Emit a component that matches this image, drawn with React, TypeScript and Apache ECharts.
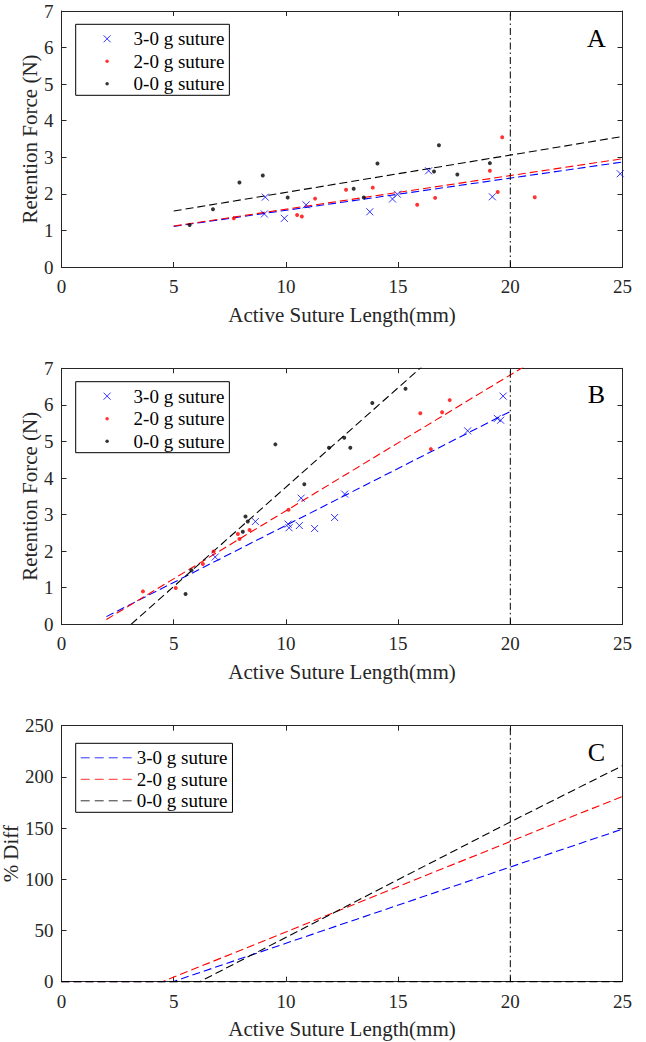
import React, { useEffect, useRef } from 'react';
import * as echarts from 'echarts';

// ---------- data ----------
const seriesNames = ['3-0 g suture', '2-0 g suture', '0-0 g suture'];
const seriesColors = ['#0000ff', '#ff0000', '#000000'];
const xMin = 0;
const xMax = 25;
const xInterval = 5;
const forceMax = 7;
const forceInterval = 1;
const diffMax = 250;
const diffInterval = 50;
const cutoffLength = 20;
const panelLetters = ['A', 'B', 'C'];

// Panel A – measured retention force (N) vs active suture length (mm)
const blueA = [[9.08, 1.91], [9.04, 1.45], [9.93, 1.33], [10.9, 1.7], [13.74, 1.51], [14.75, 1.86], [14.97, 1.99], [16.36, 2.63], [19.2, 1.92], [24.9, 2.55]];
const redA = [[7.68, 1.33], [10.5, 1.42], [10.71, 1.38], [11.3, 1.87], [12.68, 2.11], [13.87, 2.17], [15.85, 1.7], [16.65, 1.89], [19.09, 2.63], [19.44, 2.05], [19.64, 3.55], [21.09, 1.91]];
const blackA = [[5.71, 1.15], [6.75, 1.58], [7.93, 2.31], [8.97, 2.5], [10.08, 1.9], [13.02, 2.14], [13.47, 1.9], [14.08, 2.83], [16.6, 2.61], [16.82, 3.33], [17.64, 2.53], [19.09, 2.84]];
const fitBlueA = [[5, 1.11], [25, 2.87]];
const fitRedA = [[5, 1.12], [25, 2.96]];
const fitBlackA = [[5, 1.53], [25, 3.57]];

// Panel B
const blueB = [[6.85, 1.84], [8.64, 2.81], [10.1, 2.74], [10.14, 2.64], [10.6, 2.7], [10.68, 3.45], [11.28, 2.62], [12.17, 2.92], [12.62, 3.56], [18.1, 5.29], [19.42, 5.63], [19.57, 5.58], [19.68, 6.24]];
const redB = [[3.63, 0.9], [5.09, 0.99], [6.3, 1.65], [6.78, 1.99], [7.86, 2.47], [7.93, 2.33], [8.38, 2.58], [10.12, 3.13], [15.99, 5.77], [16.46, 4.79], [16.96, 5.8], [17.3, 6.13]];
const blackB = [[5.53, 0.83], [5.79, 1.48], [8.08, 2.53], [8.2, 2.95], [8.3, 2.81], [9.53, 4.92], [10.82, 3.83], [11.92, 4.83], [12.6, 5.1], [12.87, 4.83], [13.85, 6.05], [15.33, 6.44]];
const fitBlueB = [[2, 0.21], [20, 5.82]];
const fitRedB = [[2, 0.13], [21, 7.19]];
const fitBlackB = [[3.1, 0], [16.9, 7.5]];

// Panel C – % difference
const diffBlueC = [[0, 0], [4.96, 0], [20, 112], [25, 149]];
const diffRedC = [[0, 0], [4.5, 0], [20, 137], [25, 181]];
const diffBlackC = [[0, 0], [6.16, 0], [20, 156], [25, 211]];
const zeroC = [[0, 0], [25, 0]];

// ---------- styling ----------
const FONT = "'Liberation Serif', 'Times New Roman', serif";
const AX = '#262626';
const GRID_LEFT = 61.5;
const GRID_RIGHT = 23.5;
const GRID_H = 256;
const gridTops = [11, 368.3, 725.7];
const DASH = [8, 4];
const DASHDOT = [7, 3, 1.5, 3];
const X_SYMBOL = 'path://M0,0L10,10M10,0L0,10';
const X_ICON = 'path://M0,0M43,7M18,0L25,7M25,0L18,7';
const DOT_ICON = 'path://M0,0M43,7M21.5,1.75A1.75,1.75,0,1,1,21.5,5.25A1.75,1.75,0,1,1,21.5,1.75Z';
const DASH_ICON = 'path://M0,0M51,2M0,1L9,1M14,1L23,1M28,1L37,1M42,1L51,1';

function buildXAxes(g: number) {
  const common = {
    type: 'value', gridIndex: g, min: xMin, max: xMax, interval: xInterval,
    splitLine: { show: false },
    axisLine: { show: true, onZero: false, lineStyle: { color: AX, width: 1 } },
    axisTick: { show: true, inside: true, length: 5, lineStyle: { color: AX, width: 1 } },
  };
  return [
    {
      ...common, position: 'bottom',
      axisLabel: { show: true, margin: 10, color: AX, fontSize: 19, fontFamily: FONT },
      name: 'Active Suture Length(mm)', nameLocation: 'middle', nameGap: 37, nameMoveOverlap: false,
      nameTextStyle: { color: AX, fontSize: 21, fontFamily: FONT },
    },
    { ...common, position: 'top', axisLabel: { show: false } },
  ];
}

function buildYAxes(g: number, max: number, interval: number, name: string, nameGap: number) {
  const common = {
    type: 'value', gridIndex: g, min: 0, max, interval,
    splitLine: { show: false },
    axisLine: { show: true, onZero: false, lineStyle: { color: AX, width: 1 } },
    axisTick: { show: true, inside: true, length: 5, lineStyle: { color: AX, width: 1 } },
  };
  return [
    {
      ...common, position: 'left',
      axisLabel: { show: true, margin: 8, color: AX, fontSize: 19, fontFamily: FONT },
      name, nameLocation: 'middle', nameGap, nameMoveOverlap: false,
      nameTextStyle: { color: AX, fontSize: 21, fontFamily: FONT },
    },
    { ...common, position: 'right', axisLabel: { show: false } },
  ];
}

function scatterSeries(g: number, idx: number, data: number[][]) {
  const isX = idx === 0;
  return {
    type: 'scatter', name: seriesNames[idx], xAxisIndex: g * 2, yAxisIndex: g * 2, z: 4,
    data,
    symbol: isX ? X_SYMBOL : 'circle',
    symbolSize: isX ? 7 : 4,
    itemStyle: isX
      ? { color: 'transparent', borderColor: seriesColors[idx], borderWidth: 1 }
      : { color: seriesColors[idx], borderWidth: 0 },
    emphasis: { disabled: true },
  };
}

function lineSeries(g: number, color: string, data: number[][], type: any, name?: string, width = 1.1) {
  const s: any = {
    type: 'line', xAxisIndex: g * 2, yAxisIndex: g * 2, z: 3,
    data, symbol: 'none', showSymbol: false, clip: true,
    lineStyle: { color, width, type },
    itemStyle: { color },
    emphasis: { disabled: true },
  };
  if (name) s.name = name;
  return s;
}

function buildLegend(top: number, dashed: boolean, gap: number) {
  return {
    orient: 'vertical', left: 75.7, top,
    padding: dashed ? [5, 5, 2, 4.5] : [5, 5, 2, 9.4],
    itemGap: gap,
    itemWidth: dashed ? 51 : 43,
    itemHeight: dashed ? 2 : 7,
    symbolKeepAspect: true,
    borderColor: '#000', borderWidth: 1, backgroundColor: '#fff',
    selectedMode: false,
    textStyle: { color: '#000', fontSize: 19, fontFamily: FONT, lineHeight: 19 },
    data: seriesNames.map((n, i) => ({
      name: n,
      icon: dashed ? DASH_ICON : i === 0 ? X_ICON : DOT_ICON,
      itemStyle: dashed || i === 0
        ? { color: 'transparent', borderColor: seriesColors[i], borderWidth: 1 }
        : { color: seriesColors[i], borderColor: seriesColors[i], borderWidth: 0 },
    })),
  };
}

export default function App() {
  const ref = useRef<HTMLDivElement>(null);
  useEffect(() => {
    if (!ref.current) return;
    const chart = echarts.init(ref.current, undefined, { renderer: 'svg' });
    const grids = gridTops.map((t) => ({
      left: GRID_LEFT, right: GRID_RIGHT, top: t, height: GRID_H,
      containLabel: false, outerBoundsMode: 'none',
    }));
    const xAxis = [...buildXAxes(0), ...buildXAxes(1), ...buildXAxes(2)];
    const yAxis = [
      ...buildYAxes(0, forceMax, forceInterval, 'Retention Force (N)', 21),
      ...buildYAxes(1, forceMax, forceInterval, 'Retention Force (N)', 21),
      ...buildYAxes(2, diffMax, diffInterval, '% Diff', 40),
    ];
    const series: any[] = [
      scatterSeries(0, 0, blueA), scatterSeries(0, 1, redA), scatterSeries(0, 2, blackA),
      scatterSeries(1, 0, blueB), scatterSeries(1, 1, redB), scatterSeries(1, 2, blackB),
      lineSeries(2, seriesColors[0], diffBlueC, DASH, seriesNames[0]),
      lineSeries(2, seriesColors[1], diffRedC, DASH, seriesNames[1]),
      lineSeries(2, seriesColors[2], diffBlackC, DASH, seriesNames[2]),
      lineSeries(2, seriesColors[2], zeroC, DASH, undefined, 1.4),
      lineSeries(0, seriesColors[0], fitBlueA, DASH),
      lineSeries(0, seriesColors[1], fitRedA, DASH),
      lineSeries(0, seriesColors[2], fitBlackA, DASH),
      lineSeries(1, seriesColors[0], fitBlueB, DASH),
      lineSeries(1, seriesColors[1], fitRedB, DASH),
      lineSeries(1, seriesColors[2], fitBlackB, DASH),
      lineSeries(0, '#000', [[cutoffLength, 0], [cutoffLength, forceMax]], DASHDOT, undefined, 1),
      lineSeries(1, '#000', [[cutoffLength, 0], [cutoffLength, forceMax]], DASHDOT, undefined, 1),
      lineSeries(2, '#000', [[cutoffLength, 0], [cutoffLength, diffMax]], DASHDOT, undefined, 1),
    ];
    const letterY = [38, 394, 752.3];
    chart.setOption({
      animation: false,
      backgroundColor: '#fff',
      grid: grids,
      xAxis,
      yAxis,
      legend: [buildLegend(24.3, false, 3.5), buildLegend(381.7, false, 3.5), buildLegend(743.3, true, 2.5)],
      graphic: panelLetters.map((l, i) => ({
        type: 'text', x: 596.5, y: letterY[i], z: 10,
        style: { text: l, fontSize: 26, fontFamily: FONT, fill: '#000', align: 'center', verticalAlign: 'middle' },
      })),
      series,
    });
    return () => chart.dispose();
  }, []);
  return <div ref={ref} style={{ position: 'absolute', left: 0, top: 0, width: 646, height: 1042 }} />;
}
